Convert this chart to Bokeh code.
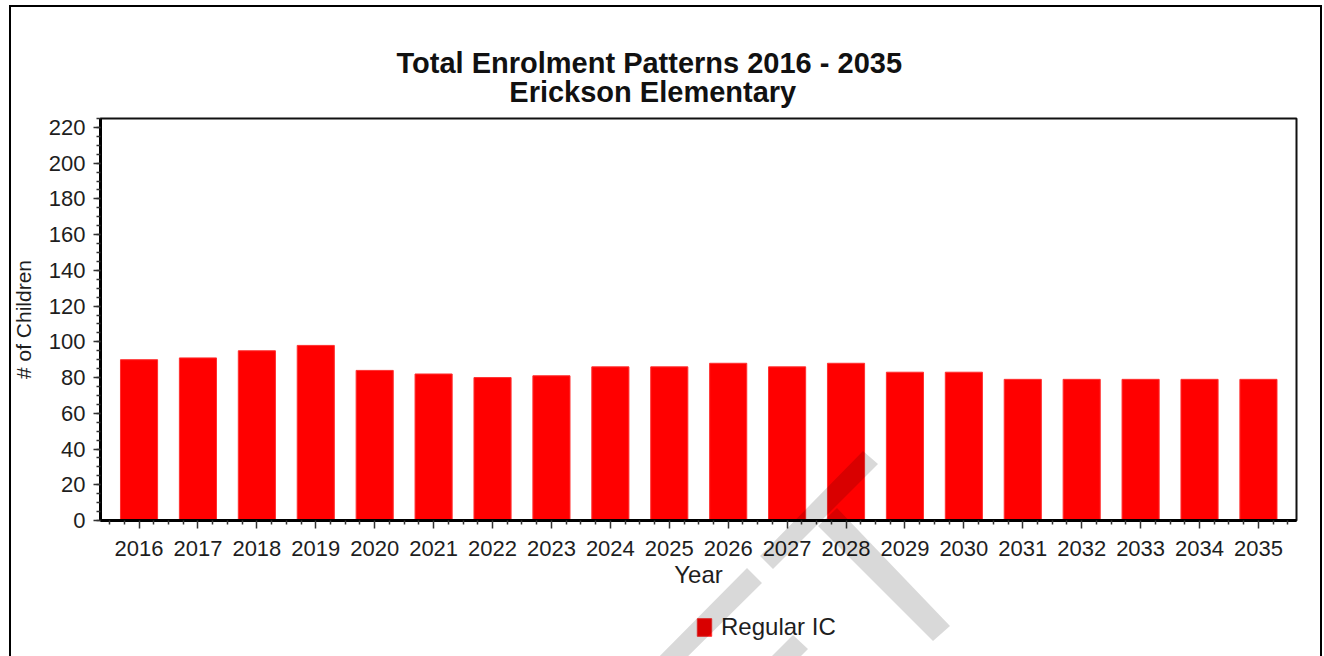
from urllib.parse import quote
from bokeh.plotting import figure
from bokeh.layouts import column
from bokeh.models import (Range1d, FixedTicker, Legend, LegendItem, Title, InlineStyleSheet)
from bokeh.embed import file_html
from bokeh.resources import INLINE

# ---------------- data ----------------
years = [2016, 2017, 2018, 2019, 2020, 2021, 2022, 2023, 2024, 2025,
         2026, 2027, 2028, 2029, 2030, 2031, 2032, 2033, 2034, 2035]
regular_ic = [90, 91, 95, 98, 84, 82, 80, 81, 86, 86,
              88, 86, 88, 83, 83, 79, 79, 79, 79, 79]
y_ticks = list(range(0, 221, 20))
title_line1 = "Total Enrolment Patterns 2016 - 2035"
title_line2 = "Erickson Elementary"
series_name = "Regular IC"

FONT = "Liberation Sans"
TXT = "#1e1e1e"
RED = "#ff0000"

# decoration: outer frame of the picture and the grey watermark strokes (page pixels)
wm_path = ("M863 451 L878 464 L773 569 L760 556 Z "
           "M837 508 L950 626 L933 641 L818 526 Z "
           "M747 568 L762 583 L664 680 L636 680 Z "
           "M793 635 L808 649 L777 680 L748 680 Z")
svg = ("<svg xmlns='http://www.w3.org/2000/svg' width='1324' height='656'>"
       "<path d='" + wm_path + "' fill='black' fill-opacity='0.15'/></svg>")
css = (":host { position: relative; }\n"
       ":host::before { content: ''; position: absolute; left: 9px; top: 5px; width: 1313px; height: 651px;"
       " border: 2px solid black; border-bottom: none; box-sizing: border-box; pointer-events: none; z-index: 10; }\n"
       ":host::after { content: ''; position: absolute; left: 0; top: 0; width: 1324px; height: 656px;"
       " pointer-events: none; z-index: 11; background-image: url(\"data:image/svg+xml;charset=utf-8,"
       + quote(svg) + "\"); background-repeat: no-repeat; }\n")

# ---------------- main chart ----------------
x_start, x_end = 2015.346, 2035.646
p = figure(width=1324, height=590, output_backend="svg", toolbar_location=None,
           x_range=Range1d(x_start, x_end), y_range=Range1d(0, 225),
           min_border_left=100, min_border_right=28, min_border_top=118, min_border_bottom=70)
p.title.visible = False
p.background_fill_color = "white"
p.border_fill_color = "white"
p.outline_line_color = "#111111"
p.outline_line_width = 2
p.xgrid.visible = False
p.ygrid.visible = False

r = p.vbar(x=years, top=regular_ic, width=0.63, fill_color=RED, line_color="#ff3030", line_width=1)

minor = [y + k * 0.25 for y in [years[0] - 1] + years for k in (1, 2, 3)]
p.xaxis.ticker = FixedTicker(ticks=years, minor_ticks=minor)
p.xaxis.axis_label = "Year"
p.yaxis.ticker = FixedTicker(ticks=y_ticks, minor_ticks=list(range(0, 226, 5)))
p.yaxis.axis_label = "# of Children"

for ax in (p.xaxis[0], p.yaxis[0]):
    ax.axis_line_color = "black"
    ax.axis_line_width = 3
    ax.major_tick_line_color = "#333333"
    ax.minor_tick_line_color = "#333333"
    ax.major_tick_line_width = 1.5
    ax.minor_tick_line_width = 1.5
    ax.major_tick_in = 0
    ax.minor_tick_in = 0
    ax.major_label_text_font = FONT
    ax.major_label_text_font_size = "22px"
    ax.major_label_text_color = TXT
    ax.axis_label_text_font = FONT
    ax.axis_label_text_font_style = "normal"
    ax.axis_label_text_color = TXT

p.xaxis.major_tick_out = 8
p.xaxis.minor_tick_out = 4
p.xaxis.major_label_standoff = 12
p.xaxis.axis_label_text_font_size = "24px"
p.xaxis.axis_label_standoff = 2

p.yaxis.major_tick_out = 7
p.yaxis.minor_tick_out = 4
p.yaxis.major_label_standoff = 8
p.yaxis.axis_label_text_font_size = "21px"
p.yaxis.axis_label_standoff = 11

# two-line title; second line centred under the first with non-breaking spaces
indent = "\u00a0" * 14
p.add_layout(Title(text=title_line1 + "\n" + indent + title_line2, align="left", offset=296,
                   vertical_align="bottom", standoff=20, text_font=FONT, text_font_size="29px",
                   text_font_style="bold", text_color="#111111", text_line_height=0.92), "above")

# ---------------- legend strip under the chart ----------------
# same x range; y range lies above every value, so the bars stay out of view and
# only the legend swatch of the series is seen
p2 = figure(width=1324, height=66, output_backend="svg", toolbar_location=None,
            x_axis_type=None, y_axis_type=None, x_range=Range1d(x_start, x_end),
            y_range=Range1d(150, 1000),
            min_border=0, min_border_left=0, min_border_right=0, min_border_top=0, min_border_bottom=0)
p2.title.visible = False
p2.outline_line_color = None
p2.xgrid.visible = False
p2.ygrid.visible = False
r2 = p2.vbar(x=years, top=regular_ic, width=0.63, fill_color=RED, line_color="#ff3030", line_width=1)
legend = Legend(items=[LegendItem(label=series_name, renderers=[r2])], location=(595, 15),
                orientation="horizontal", padding=0, margin=0, spacing=0,
                border_line_color=None, background_fill_alpha=0,
                glyph_width=18, glyph_height=22, label_height=22, label_standoff=8,
                label_text_font=FONT, label_text_font_size="24px", label_text_color=TXT)
p2.add_layout(legend, "center")

page = column(p, p2, spacing=0, stylesheets=[InlineStyleSheet(css=css)])

open("out.html", "w").write(file_html(page, INLINE))
